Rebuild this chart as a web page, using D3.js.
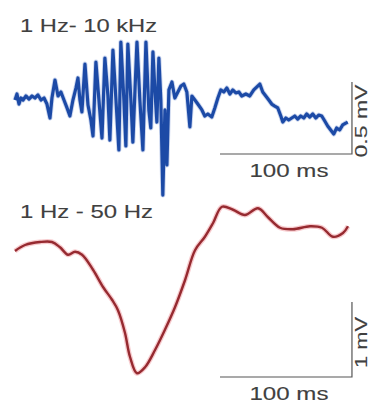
<!DOCTYPE html>
<html><head><meta charset="utf-8">
<script src="https://cdn.jsdelivr.net/npm/d3@7"></script>
<style>body{margin:0;background:#fff}svg{display:block}</style>
</head><body>
<svg id="c" width="380" height="405"></svg>
<script>
// Wideband trace (1 Hz - 10 kHz): time (ms), voltage (mV)
const wideTime = [0,1.5,3.0,4.5,6.1,8.3,10.6,12.9,15.1,17.4,19.7,22.0,24.2,26.5,28.0,30.3,32.6,34.8,37.1,39.4,41.6,43.9,46.2,47.7,49.2,50.7,53.0,55.3,57.5,59.1,61.3,63.6,65.9,68.1,70.4,71.9,74.2,76.5,78.7,80.2,82.5,84.0,85.5,87.8,89.3,92.4,94.6,96.9,99.2,101.4,102.9,104.5,106.0,107.5,109.0,110.5,112.0,113.6,115.1,116.6,118.9,121.1,123.4,125.7,127.9,130.2,132.5,134.0,136.3,138.5,141.6,143.8,146.1,149.1,151.4,153.7,155.9,158.2,160.5,162.8,165.0,167.3,169.6,171.8,174.9,177.9,180.9,183.9,185.5,187.7,190.0,192.3,194.5,196.8,199.1,201.4,202.9,205.2,207.4,209.7,212.0,214.2,216.5,218.8,221.0,223.3,225.6,227.9,230.1,232.4,234.7,236.9,239.2,241.5,243.7,246.0,248.3,250.6,252.1];
const wideValue = [-0.021,0.021,-0.049,-0.007,-0.021,0.007,-0.014,0.007,-0.007,0.014,-0.021,-0.007,-0.049,-0.146,-0.007,0.118,0.007,0.035,-0.021,-0.076,-0.132,-0.021,0.063,0.132,-0.021,-0.104,0.229,-0.056,-0.160,-0.271,0.243,-0.021,-0.285,0.271,0.007,-0.299,0.326,-0.021,-0.368,0.382,-0.021,-0.340,0.368,-0.021,-0.313,0.382,-0.021,-0.368,0.382,-0.090,-0.215,0.313,0.049,-0.174,0.271,-0.021,-0.681,-0.090,-0.472,0.049,0.104,-0.007,0.035,0.076,0.090,0.035,-0.208,0.007,-0.021,-0.049,-0.090,-0.132,-0.118,-0.139,-0.076,-0.007,0.049,0.035,0.063,0.021,0.049,0.028,0.035,0.007,0.021,0.007,0.049,0.076,0.090,0.035,0.007,-0.021,-0.049,-0.063,-0.076,-0.132,-0.174,-0.146,-0.160,-0.146,-0.132,-0.153,-0.132,-0.146,-0.118,-0.139,-0.118,-0.146,-0.125,-0.132,-0.167,-0.201,-0.229,-0.257,-0.215,-0.229,-0.194,-0.181,-0.174];

// Low-pass trace (1 Hz - 50 Hz): time (ms), voltage (mV)
const lowTime = [0,7.6,18.9,28.0,34.1,40.2,45.5,50.8,59.1,66.7,73.5,78.0,83.3,87.1,92.4,98.5,106.1,113.6,121.2,128.8,136.4,143.9,150.0,156.8,165.2,174.2,184.1,191.7,200.8,210.6,223.5,232.6,240.9,248.5,252.3];
const lowValue = [-0.08,0,0.04,0.04,-0.03,-0.13,-0.09,-0.13,-0.33,-0.56,-0.73,-0.87,-1.17,-1.49,-1.71,-1.63,-1.40,-1.13,-0.83,-0.47,-0.07,0.11,0.29,0.51,0.47,0.40,0.49,0.37,0.23,0.21,0.25,0.23,0.11,0.16,0.25];

const titles = ["1 Hz- 10 kHz", "1 Hz - 50 Hz"];
const timeBar = [155.3, 100];          // start (ms), length (ms)
const wideBar = [-0.396, 0.5];         // start (mV), length (mV)
const lowBar = [-1.76, 1];             // start (mV), length (mV)
const timeBarLabel = "100 ms";
const voltLabels = ["0.5 mV", "1 mV"];

const svg = d3.select("#c");
const x = d3.scaleLinear().domain([0, 252.3]).range([15, 348]);
const yW = d3.scaleLinear().domain([0, 0.5]).range([97, 25]);
const yL = d3.scaleLinear().domain([0, 1]).range([245, 170]);

const textCol = "#404040";
const font = "Liberation Sans, Arial, sans-serif";

// titles
svg.append("text").attr("x", 20).attr("y", 32).attr("font-family", font).attr("font-size", 19)
  .attr("fill", textCol).attr("stroke", textCol).attr("stroke-width", 0.12)
  .attr("textLength", 137).attr("lengthAdjust", "spacingAndGlyphs").text(titles[0]);
svg.append("text").attr("x", 20).attr("y", 218).attr("font-family", font).attr("font-size", 19)
  .attr("fill", textCol).attr("stroke", textCol).attr("stroke-width", 0.12)
  .attr("textLength", 133).attr("lengthAdjust", "spacingAndGlyphs").text(titles[1]);

// traces
const wide = wideTime.map((t, i) => [t, wideValue[i]]);
const low = lowTime.map((t, i) => [t, lowValue[i]]);
const wideLine = d3.line().x(d => x(d[0])).y(d => yW(d[1]));

svg.append("path").datum(wide).attr("d", wideLine)
  .attr("fill", "none").attr("stroke", "#8fa6dc").attr("stroke-width", 5).attr("stroke-opacity", 0.45)
  .attr("stroke-linejoin", "round");
svg.append("path").datum(wide).attr("d", wideLine)
  .attr("fill", "none").attr("stroke", "#1c4aa6").attr("stroke-width", 3.2)
  .attr("stroke-linejoin", "round");

const lowLine = d3.line().curve(d3.curveCatmullRom.alpha(0.5)).x(d => x(d[0])).y(d => yL(d[1]));
svg.append("path").datum(low).attr("d", lowLine)
  .attr("fill", "none").attr("stroke", "#f1a9ad").attr("stroke-width", 5).attr("stroke-opacity", 0.6);
svg.append("path").datum(low).attr("d", lowLine)
  .attr("fill", "none").attr("stroke", "#962a30").attr("stroke-width", 2.4);

// scale bars
function scaleBar(yScale, vbar, label, vLabel, vLen) {
  const x0 = x(timeBar[0]), x1 = x(timeBar[0] + timeBar[1]);
  const yb = yScale(vbar[0]), yt = yScale(vbar[0] + vbar[1]);
  svg.append("path")
    .attr("d", `M${x0},${yb}H${x1}V${yt}`)
    .attr("fill", "none").attr("stroke", "#555").attr("stroke-width", 1.2);
  svg.append("text").attr("x", (x0 + x1) / 2 + 3).attr("y", yb + 23)
    .attr("text-anchor", "middle").attr("font-family", font).attr("font-size", 19)
    .attr("fill", textCol).attr("stroke", textCol).attr("stroke-width", 0.12)
    .attr("textLength", 79).attr("lengthAdjust", "spacingAndGlyphs").text(label);
  svg.append("text")
    .attr("transform", `translate(${x1 + 15},${(yb + yt) / 2 + 3}) rotate(-90)`)
    .attr("text-anchor", "middle").attr("font-family", font).attr("font-size", 17)
    .attr("fill", textCol).attr("stroke", textCol).attr("stroke-width", 0.12)
    .attr("textLength", vLen).attr("lengthAdjust", "spacingAndGlyphs").text(vLabel);
}
scaleBar(yW, wideBar, timeBarLabel, voltLabels[0], 73);
scaleBar(yL, lowBar, timeBarLabel, voltLabels[1], 51);
</script>
</body></html>
